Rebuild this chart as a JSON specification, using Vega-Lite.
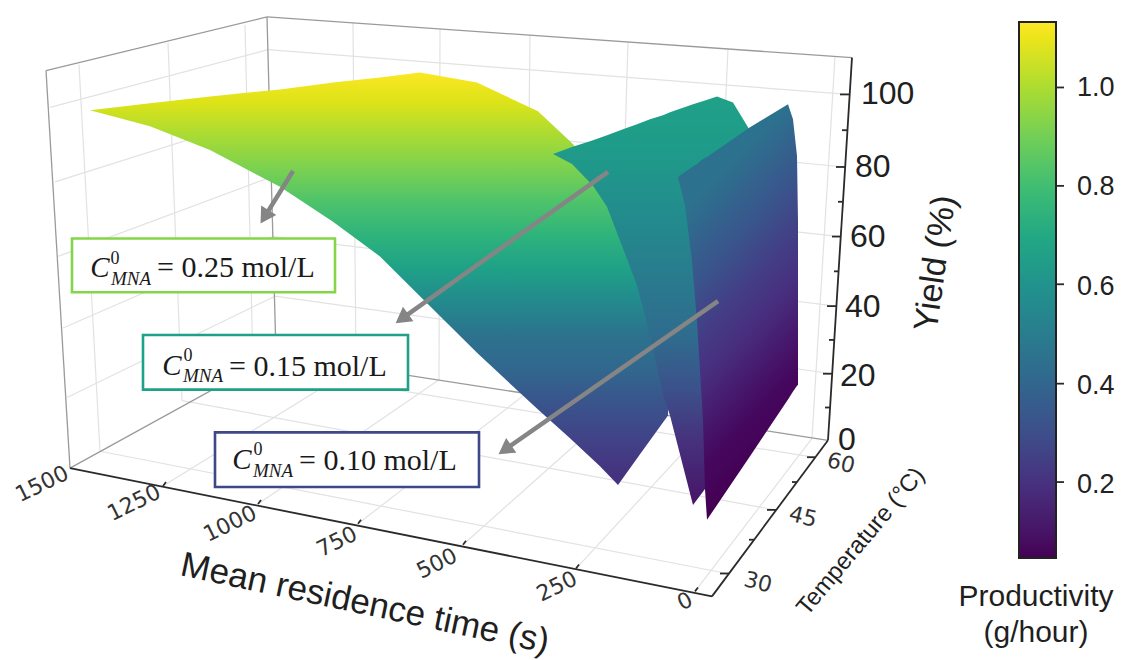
{
"$schema":"https://vega.github.io/schema/vega-lite/v6.json",
"width":1121,"height":660,"padding":0,"background":"white",
"autosize":{"type":"fit","contains":"padding"},
"config":{"view":{"stroke":null}},
"datasets":{
"grid":[
{"u":79,"v":65,"u2":100,"v2":454},{"u":168,"v":43,"u2":182,"v2":403},{"u":245,"v":25,"u2":253,"v2":369},
{"u":353,"v":23,"u2":356,"v2":369},{"u":440,"v":29,"u2":439,"v2":382},{"u":530,"v":35,"u2":526,"v2":396},{"u":628,"v":42,"u2":617,"v2":410},{"u":728,"v":49,"u2":711,"v2":425},{"u":835,"v":57,"u2":812,"v2":441},
{"u":50,"v":108,"u2":268,"v2":50},{"u":55,"v":183,"u2":272,"v2":114},{"u":58,"v":258,"u2":274,"v2":177},{"u":63,"v":330,"u2":273,"v2":238},{"u":67,"v":400,"u2":275,"v2":298},
{"u":268,"v":50,"u2":848,"v2":95},{"u":272,"v":114,"u2":845,"v2":168},{"u":274,"v":177,"u2":840,"v2":238},{"u":273,"v":238,"u2":836,"v2":308},{"u":275,"v":298,"u2":832,"v2":376},
{"u":100,"v":454,"u2":727,"v2":577},{"u":182,"v":403,"u2":775,"v2":513},{"u":253,"v":369,"u2":813,"v2":460},
{"u":163,"v":489,"u2":356,"v2":369},{"u":258,"v":507,"u2":439,"v2":382},{"u":358,"v":527,"u2":526,"v2":396},{"u":463,"v":548,"u2":617,"v2":410},{"u":576,"v":572,"u2":711,"v2":425},{"u":695,"v":595,"u2":812,"v2":441}
],
"frame":[
{"u":46,"v":71,"u2":267,"v2":17},{"u":267,"v":17,"u2":852,"v2":58},{"u":46,"v":71,"u2":70,"v2":471},{"u":267,"v":17,"u2":276,"v2":357},{"u":70,"v":471,"u2":276,"v2":357},{"u":276,"v":357,"u2":828,"v2":443}
],
"axes":[
{"u":70,"v":471,"u2":712,"v2":600},{"u":712,"v":600,"u2":828,"v2":443},{"u":828,"v":443,"u2":852,"v2":58},
{"u":163,"v":489,"u2":166,"v2":485},{"u":258,"v":507,"u2":261,"v2":503},{"u":358,"v":527,"u2":361,"v2":523},{"u":463,"v":548,"u2":466,"v2":544},{"u":576,"v":572,"u2":579,"v2":568},{"u":695,"v":595,"u2":698,"v2":591},
{"u":720,"v":577,"u2":729,"v2":577},{"u":767,"v":513,"u2":776,"v2":513},{"u":807,"v":460,"u2":815,"v2":460},{"u":749,"v":543,"u2":754,"v2":543},{"u":792,"v":485,"u2":797,"v2":485},
{"u":840,"v":95,"u2":850,"v2":95},{"u":836,"v":168,"u2":845,"v2":168},{"u":832,"v":238,"u2":841,"v2":238},{"u":827,"v":308,"u2":836,"v2":308},{"u":823,"v":376,"u2":832,"v2":376},
{"u":842,"v":131,"u2":847,"v2":131},{"u":838,"v":203,"u2":843,"v2":203},{"u":834,"v":273,"u2":839,"v2":273},{"u":829,"v":342,"u2":834,"v2":342},{"u":825,"v":410,"u2":830,"v2":410},
{"u":1056,"v":88,"u2":1064,"v2":88},{"u":1056,"v":187,"u2":1064,"v2":187},{"u":1056,"v":286,"u2":1064,"v2":286},{"u":1056,"v":386,"u2":1064,"v2":386},{"u":1056,"v":485,"u2":1064,"v2":485}
],
"surface025":[
{"u":90,"v":111,"v2":111},{"u":150,"v":104,"v2":127},{"u":210,"v":97,"v2":151},{"u":280,"v":90,"v2":188},{"u":333,"v":83,"v2":223},{"u":380,"v":78,"v2":258},{"u":420,"v":73,"v2":298},{"u":477,"v":83,"v2":355},{"u":538,"v":112,"v2":412},{"u":570,"v":142,"v2":441},{"u":600,"v":172,"v2":469},{"u":618,"v":230,"v2":488},{"u":640,"v":290,"v2":457},{"u":668,"v":400,"v2":418}
],
"surface015":[
{"u":553,"v":155,"v2":155},{"u":572,"v":148,"v2":165},{"u":593,"v":141,"v2":187},{"u":607,"v":136,"v2":208},{"u":623,"v":130,"v2":250},{"u":637,"v":125,"v2":287},{"u":650,"v":120,"v2":337},{"u":663,"v":116,"v2":397},{"u":670,"v":113,"v2":418},{"u":693,"v":105,"v2":508},{"u":705,"v":101,"v2":492},{"u":717,"v":97,"v2":470},{"u":733,"v":103,"v2":440},{"u":748,"v":128,"v2":420},{"u":760,"v":150,"v2":400}
],
"surface010":[
{"u":678,"v":178,"v2":178},{"u":685,"v":173,"v2":207},{"u":692,"v":168,"v2":263},{"u":697,"v":165,"v2":323},{"u":703,"v":160,"v2":423},{"u":705,"v":159,"v2":492},{"u":707,"v":158,"v2":523},{"u":750,"v":128,"v2":459},{"u":788,"v":105,"v2":402},{"u":793,"v":120,"v2":394},{"u":797,"v":157,"v2":388},{"u":798,"v":223,"v2":387}
],
"boxes":[
{"u":72,"v":240,"u2":335,"v2":294,"conc":"0.25"},{"u":143,"v":337,"u2":408,"v2":392,"conc":"0.15"},{"u":215,"v":435,"u2":479,"v2":490,"conc":"0.10"}
],
"shafts":[
{"u":293,"v":172,"u2":266,"v2":216},{"u":608,"v":173,"u2":404,"v2":319},{"u":718,"v":303,"u2":507,"v2":451}
],
"heads":[
{"u":266,"v":216,"heading":212},{"u":404,"v":319,"heading":234},{"u":507,"v":451,"heading":235}
],
"eqC":[{"u":100,"v":270,"t":"C"},{"u":172,"v":368,"t":"C"},{"u":242,"v":463,"t":"C"}],
"eqSup":[{"u":115,"v":261,"t":"0"},{"u":188,"v":358,"t":"0"},{"u":258,"v":453,"t":"0"}],
"eqSub":[{"u":131,"v":281,"t":"MNA"},{"u":203,"v":378,"t":"MNA"},{"u":273,"v":474,"t":"MNA"}],
"eqMain":[{"u":157,"v":270,"t":"= 0.25 mol/L"},{"u":229,"v":369,"t":"= 0.15 mol/L"},{"u":299,"v":464,"t":"= 0.10 mol/L"}],
"xLabels":[{"u":42,"v":487,"t":"1500"},{"u":134,"v":506,"t":"1250"},{"u":230,"v":527,"t":"1000"},{"u":337,"v":545,"t":"750"},{"u":437,"v":567,"t":"500"},{"u":557,"v":590,"t":"250"},{"u":685,"v":605,"t":"0"}],
"tLabels":[{"u":758,"v":586,"t":"30"},{"u":803,"v":520,"t":"45"},{"u":841,"v":466,"t":"60"}],
"zLabels":[{"u":861,"v":95,"t":"100"},{"u":855,"v":168,"t":"80"},{"u":850,"v":238,"t":"60"},{"u":845,"v":309,"t":"40"},{"u":840,"v":378,"t":"20"},{"u":838,"v":443,"t":"0"}],
"xTitle":[{"u":365,"v":607,"t":"Mean residence time (s)"}],
"tTitle":[{"u":861,"v":545,"t":"Temperature  (°C)"}],
"zTitle":[{"u":936,"v":265,"t":"Yield (%)"}],
"barTitle":[{"u":1036,"v":601,"t":"Productivity"},{"u":1036,"v":637,"t":"(g/hour)"}],
"bar":[{"u":1037,"v":22,"productivity":1.133},{"u":1037,"v":558,"productivity":0.053}]
},
"encoding":{
"x":{"field":"u","type":"quantitative","scale":{"domain":[0,1121],"nice":false,"zero":false},"axis":null},
"y":{"field":"v","type":"quantitative","scale":{"domain":[660,0],"nice":false,"zero":false},"axis":null}
},
"layer":[
{"data":{"name":"grid"},"mark":{"type":"rule","stroke":"#e2e2e2","strokeWidth":1.2},"encoding":{"x2":{"field":"u2"},"y2":{"field":"v2"}}},
{"data":{"name":"frame"},"mark":{"type":"rule","stroke":"#9a9a9a","strokeWidth":1.3},"encoding":{"x2":{"field":"u2"},"y2":{"field":"v2"}}},
{"data":{"name":"axes"},"mark":{"type":"rule","stroke":"#2a2a2a","strokeWidth":1.8},"encoding":{"x2":{"field":"u2"},"y2":{"field":"v2"}}},
{"data":{"name":"surface025"},"mark":{"type":"area","color":{"gradient":"linear","x1":0.5,"y1":0,"x2":0.5,"y2":1,"stops":[{"offset":0,"color":"#fbe723"},{"offset":0.072,"color":"#dde318"},{"offset":0.154,"color":"#a8db34"},{"offset":0.234,"color":"#7ad151"},{"offset":0.313,"color":"#4ec36b"},{"offset":0.395,"color":"#2eb37c"},{"offset":0.475,"color":"#1fa187"},{"offset":0.554,"color":"#238a8d"},{"offset":0.636,"color":"#2c728e"},{"offset":0.716,"color":"#31688e"},{"offset":0.795,"color":"#39558c"},{"offset":0.877,"color":"#404588"},{"offset":0.957,"color":"#453581"},{"offset":1,"color":"#46307e"}]}},"encoding":{"y2":{"field":"v2"}}},
{"data":{"name":"surface015"},"mark":{"type":"area","color":{"gradient":"linear","x1":0.5,"y1":0,"x2":0.5,"y2":1,"stops":[{"offset":0,"color":"#1fa187"},{"offset":0.146,"color":"#1f9a8a"},{"offset":0.307,"color":"#238a8d"},{"offset":0.47,"color":"#2a788e"},{"offset":0.584,"color":"#2f6c8e"},{"offset":0.713,"color":"#3b528b"},{"offset":0.835,"color":"#46337e"},{"offset":1,"color":"#481467"}]}},"encoding":{"y2":{"field":"v2"}}},
{"data":{"name":"surface010"},"mark":{"type":"area","color":{"gradient":"linear","x1":0.35,"y1":0,"x2":0.65,"y2":1,"stops":[{"offset":0,"color":"#2e6f8e"},{"offset":0.15,"color":"#2c728e"},{"offset":0.34,"color":"#3a548c"},{"offset":0.46,"color":"#433e85"},{"offset":0.56,"color":"#482f7f"},{"offset":0.76,"color":"#45085f"},{"offset":0.87,"color":"#440154"},{"offset":1,"color":"#440154"}]}},"encoding":{"y2":{"field":"v2"}}},
{"data":{"name":"boxes"},"mark":{"type":"rect","fill":"white","strokeWidth":2.6},"encoding":{"x2":{"field":"u2"},"y2":{"field":"v2"},"stroke":{"field":"conc","type":"nominal","legend":null,"scale":{"domain":["0.25","0.15","0.10"],"range":["#86d549","#1fa187","#3f4788"]}}}},
{"data":{"name":"shafts"},"mark":{"type":"rule","stroke":"#858585","strokeWidth":4.5},"encoding":{"x2":{"field":"u2"},"y2":{"field":"v2"}}},
{"data":{"name":"heads"},"mark":{"type":"point","shape":"triangle","filled":true,"fill":"#858585","stroke":null,"opacity":1,"size":320},"encoding":{"angle":{"field":"heading","type":"quantitative","scale":null}}},
{"data":{"name":"eqC"},"mark":{"type":"text","font":"Liberation Serif","fontStyle":"italic","fontSize":29,"color":"#1a1a1a","baseline":"middle","align":"center"},"encoding":{"text":{"field":"t"}}},
{"data":{"name":"eqSup"},"mark":{"type":"text","font":"Liberation Serif","fontSize":18,"color":"#1a1a1a","baseline":"middle","align":"center"},"encoding":{"text":{"field":"t"}}},
{"data":{"name":"eqSub"},"mark":{"type":"text","font":"Liberation Serif","fontStyle":"italic","fontSize":19,"color":"#1a1a1a","baseline":"middle","align":"center"},"encoding":{"text":{"field":"t"}}},
{"data":{"name":"eqMain"},"mark":{"type":"text","font":"Liberation Serif","fontSize":30,"color":"#1a1a1a","baseline":"middle","align":"left"},"encoding":{"text":{"field":"t"}}},
{"data":{"name":"xLabels"},"mark":{"type":"text","font":"DejaVu Sans","fontSize":22,"color":"#333333","angle":334,"baseline":"middle","align":"center"},"encoding":{"text":{"field":"t"}}},
{"data":{"name":"tLabels"},"mark":{"type":"text","font":"DejaVu Sans","fontSize":22,"color":"#333333","angle":14,"baseline":"middle","align":"center"},"encoding":{"text":{"field":"t"}}},
{"data":{"name":"zLabels"},"mark":{"type":"text","font":"Liberation Sans","fontSize":32,"color":"#1f1f1f","baseline":"middle","align":"left"},"encoding":{"text":{"field":"t"}}},
{"data":{"name":"xTitle"},"mark":{"type":"text","font":"Liberation Sans","fontSize":35,"color":"#1f1f1f","angle":12,"baseline":"middle","align":"center"},"encoding":{"text":{"field":"t"}}},
{"data":{"name":"tTitle"},"mark":{"type":"text","font":"Liberation Sans","fontSize":24,"color":"#1f1f1f","angle":310,"baseline":"middle","align":"center"},"encoding":{"text":{"field":"t"}}},
{"data":{"name":"zTitle"},"mark":{"type":"text","font":"Liberation Sans","fontSize":34,"color":"#1f1f1f","angle":278,"baseline":"middle","align":"center"},"encoding":{"text":{"field":"t"}}},
{"data":{"name":"barTitle"},"mark":{"type":"text","font":"Liberation Sans","fontSize":30,"color":"#1f1f1f","baseline":"middle","align":"center"},"encoding":{"text":{"field":"t"}}},
{"data":{"name":"bar"},"mark":{"type":"point","filled":true,"size":0,"opacity":1},"encoding":{"color":{"field":"productivity","type":"quantitative","scale":{"scheme":"viridis","domain":[0.053,1.133],"nice":false,"zero":false},"legend":{"orient":"none","legendX":1019,"legendY":22,"title":null,"padding":0,"gradientLength":536,"gradientThickness":37,"gradientStrokeColor":"#222222","gradientStrokeWidth":2,"values":[0.2,0.4,0.6,0.8,1.0],"format":".1f","labelFont":"Liberation Sans","labelFontSize":27,"labelColor":"#222222","labelOffset":21,"labelOverlap":false}}}}
]
}
